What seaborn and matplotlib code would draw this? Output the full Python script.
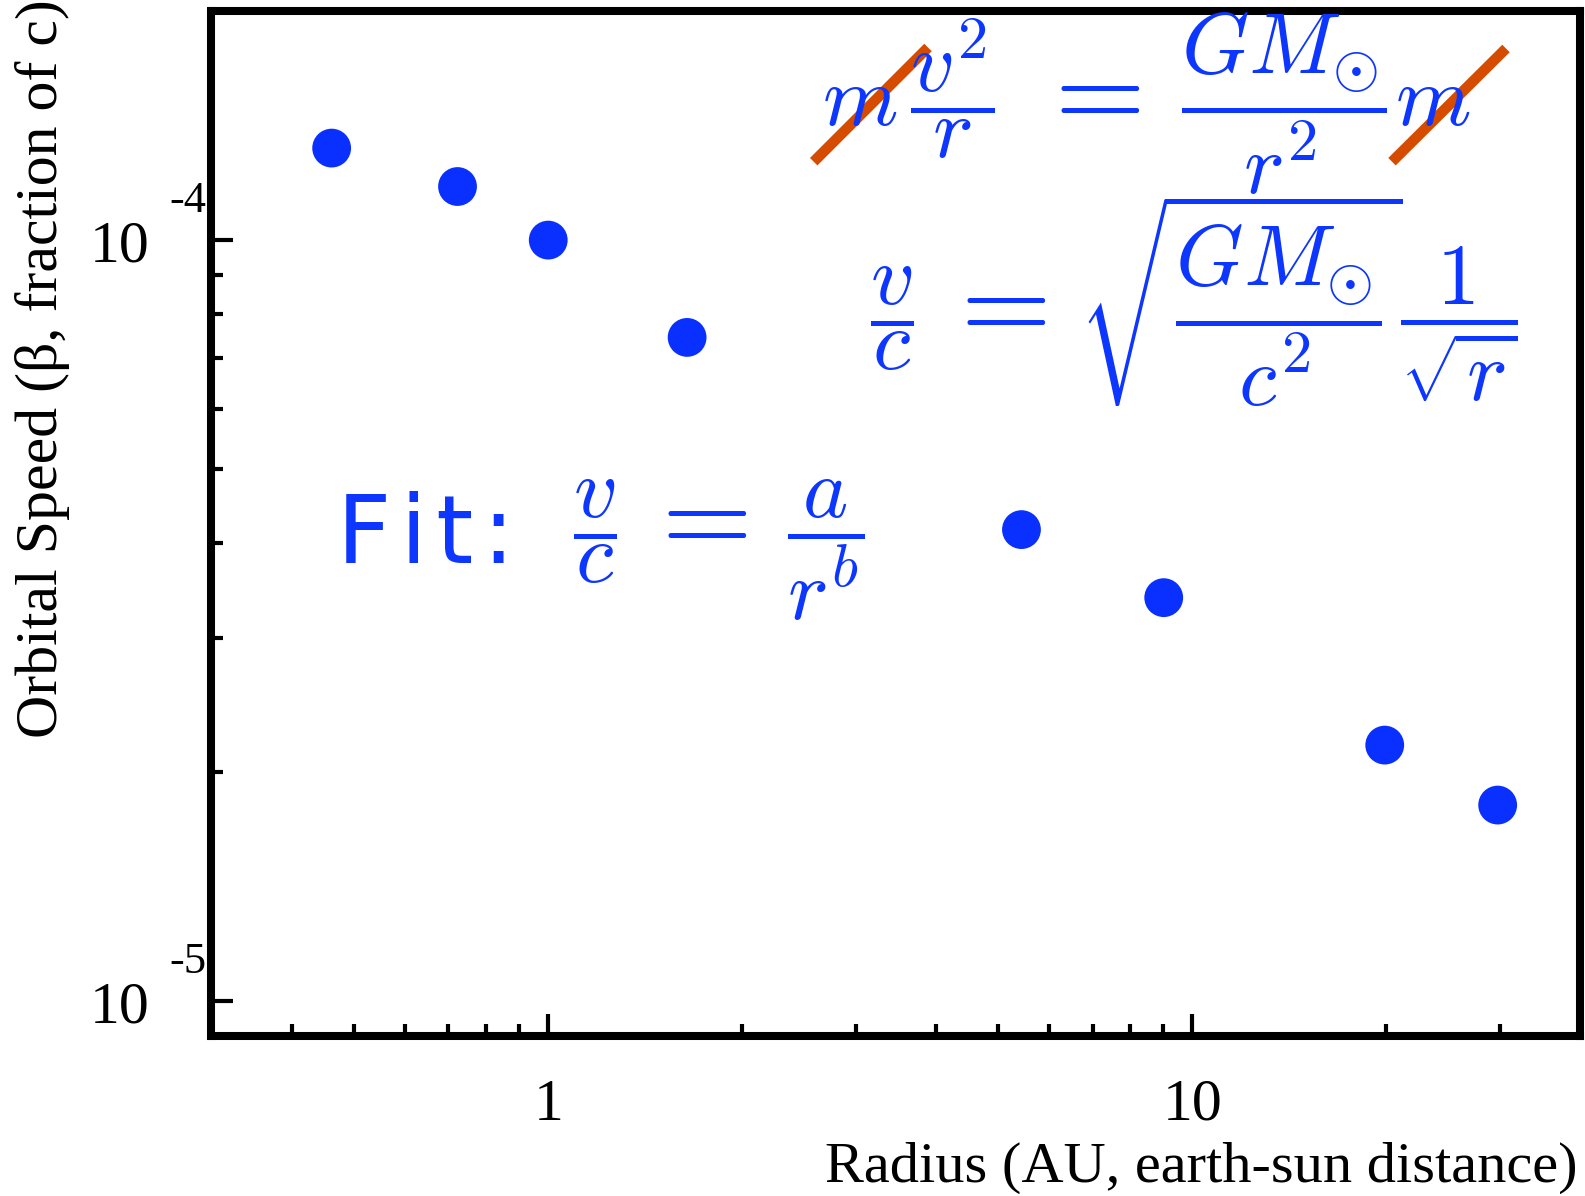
import numpy as np
import pandas as pd
import matplotlib
matplotlib.use("Agg")
import matplotlib.pyplot as plt
import matplotlib.transforms as mtransforms
from matplotlib.lines import Line2D
from matplotlib.ticker import LogLocator, NullFormatter
import seaborn as sns

# ---- data ----
planets = ["Mercury", "Venus", "Earth", "Mars", "Jupiter", "Saturn", "Uranus", "Neptune"]
radius_au = [0.461, 0.723, 1.0, 1.643, 5.43, 9.03, 19.9, 29.8]
speed_beta = [1.321e-4, 1.176e-4, 1.0e-4, 7.45e-5, 4.165e-5, 3.39e-5, 2.17e-5, 1.81e-5]
x_tick_values = [1, 10]
x_tick_labels = ["1", "10"]
y_tick_values = [1e-5, 1e-4]
y_tick_bases = ["10", "10"]
y_tick_exps = ["-5", "-4"]
x_label = "Radius (AU, earth-sun distance)"
y_label = "Orbital Speed (\u03b2, fraction of c)"

df = pd.DataFrame({"planet": planets, "radius": radius_au, "beta": speed_beta})

sns.set_style("white")
plt.rcParams["font.family"] = ["Liberation Serif", "DejaVu Serif"]
plt.rcParams["mathtext.fontset"] = "cm"

W, H = 1585, 1196
fig = plt.figure(figsize=(W / 100, H / 100), dpi=100)
ax = fig.add_axes([211.5 / W, 1 - 1036 / H, (1580 - 211.5) / W, (1036 - 11) / H])

BLUE = "#0a30ff"
TXT_BLUE = "#0d36ff"
ORANGE = "#d54c00"

sns.scatterplot(data=df, x="radius", y="beta", ax=ax, s=780, color=BLUE,
                edgecolor="none", linewidth=0, legend=False)
ax.set_xscale("log")
ax.set_yscale("log")
ax.set_xlim(0.3, 40)
ax.set_ylim(9e-6, 2e-4)
ax.set_xlabel("")
ax.set_ylabel("")

for sp in ax.spines.values():
    sp.set_linewidth(5.8)
    sp.set_color("black")

ax.set_xticks(x_tick_values)
ax.set_yticks(y_tick_values)
ax.xaxis.set_minor_locator(LogLocator(base=10, subs=np.arange(2, 10)))
ax.yaxis.set_minor_locator(LogLocator(base=10, subs=np.arange(2, 10)))
ax.xaxis.set_major_formatter(NullFormatter())
ax.yaxis.set_major_formatter(NullFormatter())
ax.xaxis.set_minor_formatter(NullFormatter())
ax.yaxis.set_minor_formatter(NullFormatter())
ax.tick_params(which="major", direction="in", length=16, width=3, color="black",
               left=True, bottom=True, top=False, right=False)
ax.tick_params(which="minor", direction="in", length=8.5, width=3, color="black",
               left=True, bottom=True, top=False, right=False)

# tick labels
tr_y = mtransforms.blended_transform_factory(fig.transFigure, ax.transData)
for v, b, e in zip(y_tick_values, y_tick_bases, y_tick_exps):
    ax.text(120 / W, v, b, transform=tr_y + mtransforms.ScaledTranslation(0, -7 / 100, fig.dpi_scale_trans),
            ha="center", va="center", fontsize=43, color="black")
    ax.text(188 / W, v, e, transform=tr_y + mtransforms.ScaledTranslation(0, 39 / 100, fig.dpi_scale_trans),
            ha="center", va="center", fontsize=32, color="black")
tr_x = mtransforms.blended_transform_factory(ax.transData, fig.transFigure)
for v, lab in zip(x_tick_values, x_tick_labels):
    ax.text(v, 1 - 1106 / H, lab, transform=tr_x, ha="center", va="center",
            fontsize=43, color="black")

# axis labels
fig.text(43 / W, 1 - 369 / H, y_label, rotation=90, ha="center", va="center",
         fontsize=43, color="black")
fig.text(1578 / W, 1 - 1168 / H, x_label, ha="right", va="center",
         fontsize=42, color="black")


# equations (pieces placed on a shared baseline, in figure pixels)
MATH_FS = 62
EQ_FS = 84


def put(x_px, base_px, s, ha="left", fs=MATH_FS, **kw):
    fig.text(x_px / W, 1 - base_px / H, s, ha=ha, va="baseline",
             fontsize=fs, color=TXT_BLUE, **kw)


def equals(cx_px, base_px):
    put(cx_px, base_px, r"$=$", ha="center", fs=EQ_FS)


# m v^2/r = G M / r^2 m
put(822, 126, r"$m\,\dfrac{v^{2}}{r}$")
equals(1087, 126)
put(1181, 126, r"$\dfrac{GM_{\odot}}{r^{2}}m$")

# v/c = sqrt(G M / c^2) * 1/sqrt(r)
put(870, 338, r"$\dfrac{v}{c}$")
equals(993, 338)
put(1078, 338, r"$\sqrt{\dfrac{GM_{\odot}}{c^{2}}}\dfrac{1}{\sqrt{r}}$")

# Fit: v/c = a / r^b
put(337, 563, "F\u200ai\u200at\u200a:", fs=68, family=["DejaVu Sans"])
put(573, 551, r"$\dfrac{v}{c}$")
equals(694, 551)
put(787, 551, r"$\dfrac{a}{r^{b}}$")

# strike-through lines over the cancelled m's
for (x0, y0, x1, y1) in [(813.7, 161.7, 928, 47.5), (1392, 161.7, 1506, 48.5)]:
    fig.add_artist(Line2D([x0 / W, x1 / W], [1 - y0 / H, 1 - y1 / H],
                          transform=fig.transFigure, color=ORANGE,
                          linewidth=7.6, solid_capstyle="butt"))

fig.savefig("out.png", dpi=100)
